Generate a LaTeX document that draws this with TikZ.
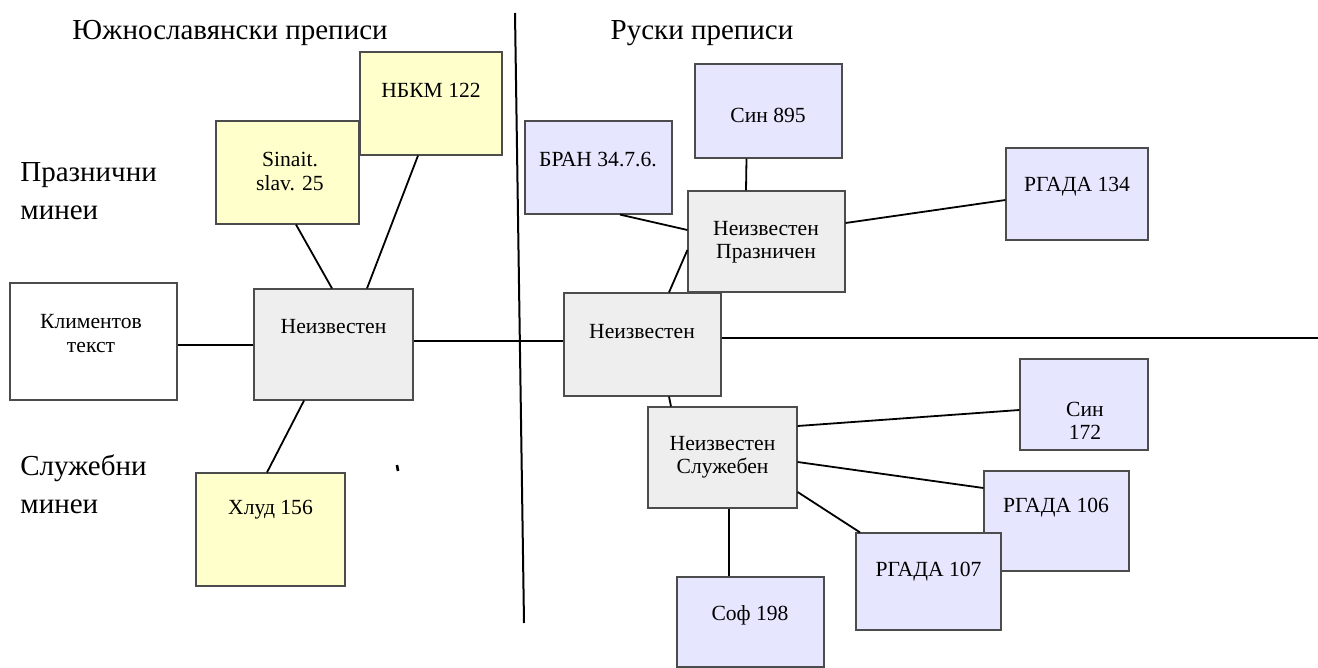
\documentclass[tikz,border=0pt]{standalone}
\usepackage{fontspec}
\setmainfont{Liberation Serif}
\usetikzlibrary{positioning,fit}
\definecolor{southfill}{HTML}{FFFFCC}
\definecolor{russfill}{HTML}{E6E6FF}
\definecolor{unknfill}{HTML}{EEEEEE}
\tikzset{box node/.style={rectangle, draw=black!70, line width=0.6pt, inner sep=0pt}}
\tikzset{south node/.style={box node, fill=southfill}}
\tikzset{russ node/.style={box node, fill=russfill}}
\tikzset{unkn node/.style={box node, fill=unknfill}}
\tikzset{box text/.style={font=\fontsize{10.8}{11.7}\selectfont, align=center, inner sep=0pt}}
\tikzset{title text/.style={font=\fontsize{14.5}{17}\selectfont, inner sep=0pt}}
\tikzset{side text/.style={font=\fontsize{14.5}{19}\selectfont, align=left, anchor=west, inner sep=0pt}}
\tikzset{regular edge/.style={draw=black, line width=0.9pt}}

\begin{document}
\begin{tikzpicture}
          [x=0.5pt, y=-0.5pt]
          \useasboundingbox (0,0) rectangle (1318,668);
          % titles
          \node [title text] (southtitle) at (230, 33) {Южнославянски преписи};
          \node [title text] (russtitle)  at (702, 33) {Руски преписи};
          \node [side text]  (festive)    at ( 20,191) {Празнични\\минеи};
          \node [side text]  (service)    at ( 20,484) {Служебни\\минеи};

          % boxes
          \node [box node, fit={(10,283) (177,400)}]     (klim)     {};
          \node [unkn node, fit={(254,289) (413,400)}]   (unkl)     {};
          \node [south node, fit={(216,121) (359,224)}]  (sinait)   {};
          \node [south node, fit={(360,52) (502,155)}]   (nbkm)     {};
          \node [south node, fit={(196,473) (345,586)}]  (chlud)    {};
          \node [unkn node, fit={(564,293) (721,396)}]   (unkr)     {};
          \node [unkn node, fit={(688,191) (845,292)}]   (prazn)    {};
          \node [unkn node, fit={(648,407) (797,508)}]   (sluzh)    {};
          \node [russ node, fit={(525,121) (672,214)}]   (bran)     {};
          \node [russ node, fit={(695,64) (842,158)}]    (sin895)   {};
          \node [russ node, fit={(1006,148) (1148,240)}] (rgada134) {};
          \node [russ node, fit={(1020,359) (1148,450)}] (sin172)   {};
          \node [russ node, fit={(984,471) (1129,571)}]  (rgada106) {};
          \node [russ node, fit={(856,533) (1001,630)}]  (rgada107) {};
          \node [russ node, fit={(677,577) (824,667)}]   (sof198)   {};

          % box texts
          \node [box text] (klim-t)     at (  91,333.5) {Климентов\\текст};
          \node [box text] (unkl-t)     at (333.5,327)  {Неизвестен};
          \node [box text] (sinait-t)   at ( 290,171.5) {Sinait.\\slav. 25};
          \node [box text] (nbkm-t)     at ( 431, 90)   {НБКМ 122};
          \node [box text] (chlud-t)    at (270.5,510)  {Хлуд 156};
          \node [box text] (unkr-t)     at ( 642,332)   {Неизвестен};
          \node [box text] (prazn-t)    at ( 766,242)   {Неизвестен\\Празничен};
          \node [box text] (sluzh-t)    at (722.5,457.5){Неизвестен\\Служебен};
          \node [box text] (bran-t)     at ( 598,160)   {БРАН 34.7.6.};
          \node [box text] (sin895-t)   at ( 768,115)   {Син 895};
          \node [box text] (rgada134-t) at (1077,187)   {РГАДА 134};
          \node [box text] (sin172-t)   at (1085,421)   {Син\\172};
          \node [box text] (rgada106-t) at (1056,508)   {РГАДА 106};
          \node [box text] (rgada107-t) at (928.5,572)  {РГАДА 107};
          \node [box text] (sof198-t)   at ( 750,615)   {Соф 198};

          \coordinate (septop)    at (515, 13);
          \coordinate (sepbottom) at (524,623);
          \coordinate (rightend)  at (1318,338);

          % separator and stray mark
          \draw [line width=1pt] (septop) -- (sepbottom);
          \draw [line width=1.3pt] (397,465) -- (398,471);

          % south slavic edges
          \draw [regular edge] ([xshift=4.25pt]sinait.south) -- ([xshift=-0.75pt]unkl.north);
          \draw [regular edge] ([xshift=-6.5pt]nbkm.south)   -- ([xshift=16.75pt]unkl.north);
          \draw [regular edge] ([yshift=-0.25pt]klim.east |- unkl.west) -- ([yshift=-0.25pt]unkl.west);
          \draw [regular edge] ([xshift=-14.75pt]unkl.south) -- ([xshift=-1.75pt]chlud.north);
          \draw [regular edge] ([yshift=1.75pt]unkl.east)    -- ([yshift=1.75pt]unkr.west);

          % russian edges
          \draw [regular edge] (rightend -| unkr.east)        -- (rightend);
          \draw [regular edge] ([xshift=13.25pt]unkr.north)  -- ([yshift=-4.25pt]prazn.west);
          \draw [regular edge] ([xshift=10.75pt]bran.south)  -- ([yshift=5.75pt]prazn.west);
          \draw [regular edge] ([xshift=-11pt]sin895.south)  -- ([xshift=-10.25pt]prazn.north);
          \draw [regular edge] ([yshift=9.25pt]prazn.east)   -- ([yshift=-3pt]rgada134.west);
          \draw [regular edge] ([xshift=13.25pt]unkr.south)  -- ([xshift=-25.75pt]sluzh.north);
          \draw [regular edge] ([yshift=15.75pt]sluzh.east)  -- ([yshift=-2.75pt]sin172.west);
          \draw [regular edge] ([yshift=-2.25pt]sluzh.east)  -- ([yshift=16.5pt]rgada106.west);
          \draw [regular edge] ([yshift=-17.25pt]sluzh.east) -- ([xshift=-34.25pt]rgada107.north);
          \draw [regular edge] ([xshift=3.25pt]sluzh.south)  -- ([xshift=-10.75pt]sof198.north);
        \end{tikzpicture}
\end{document}
